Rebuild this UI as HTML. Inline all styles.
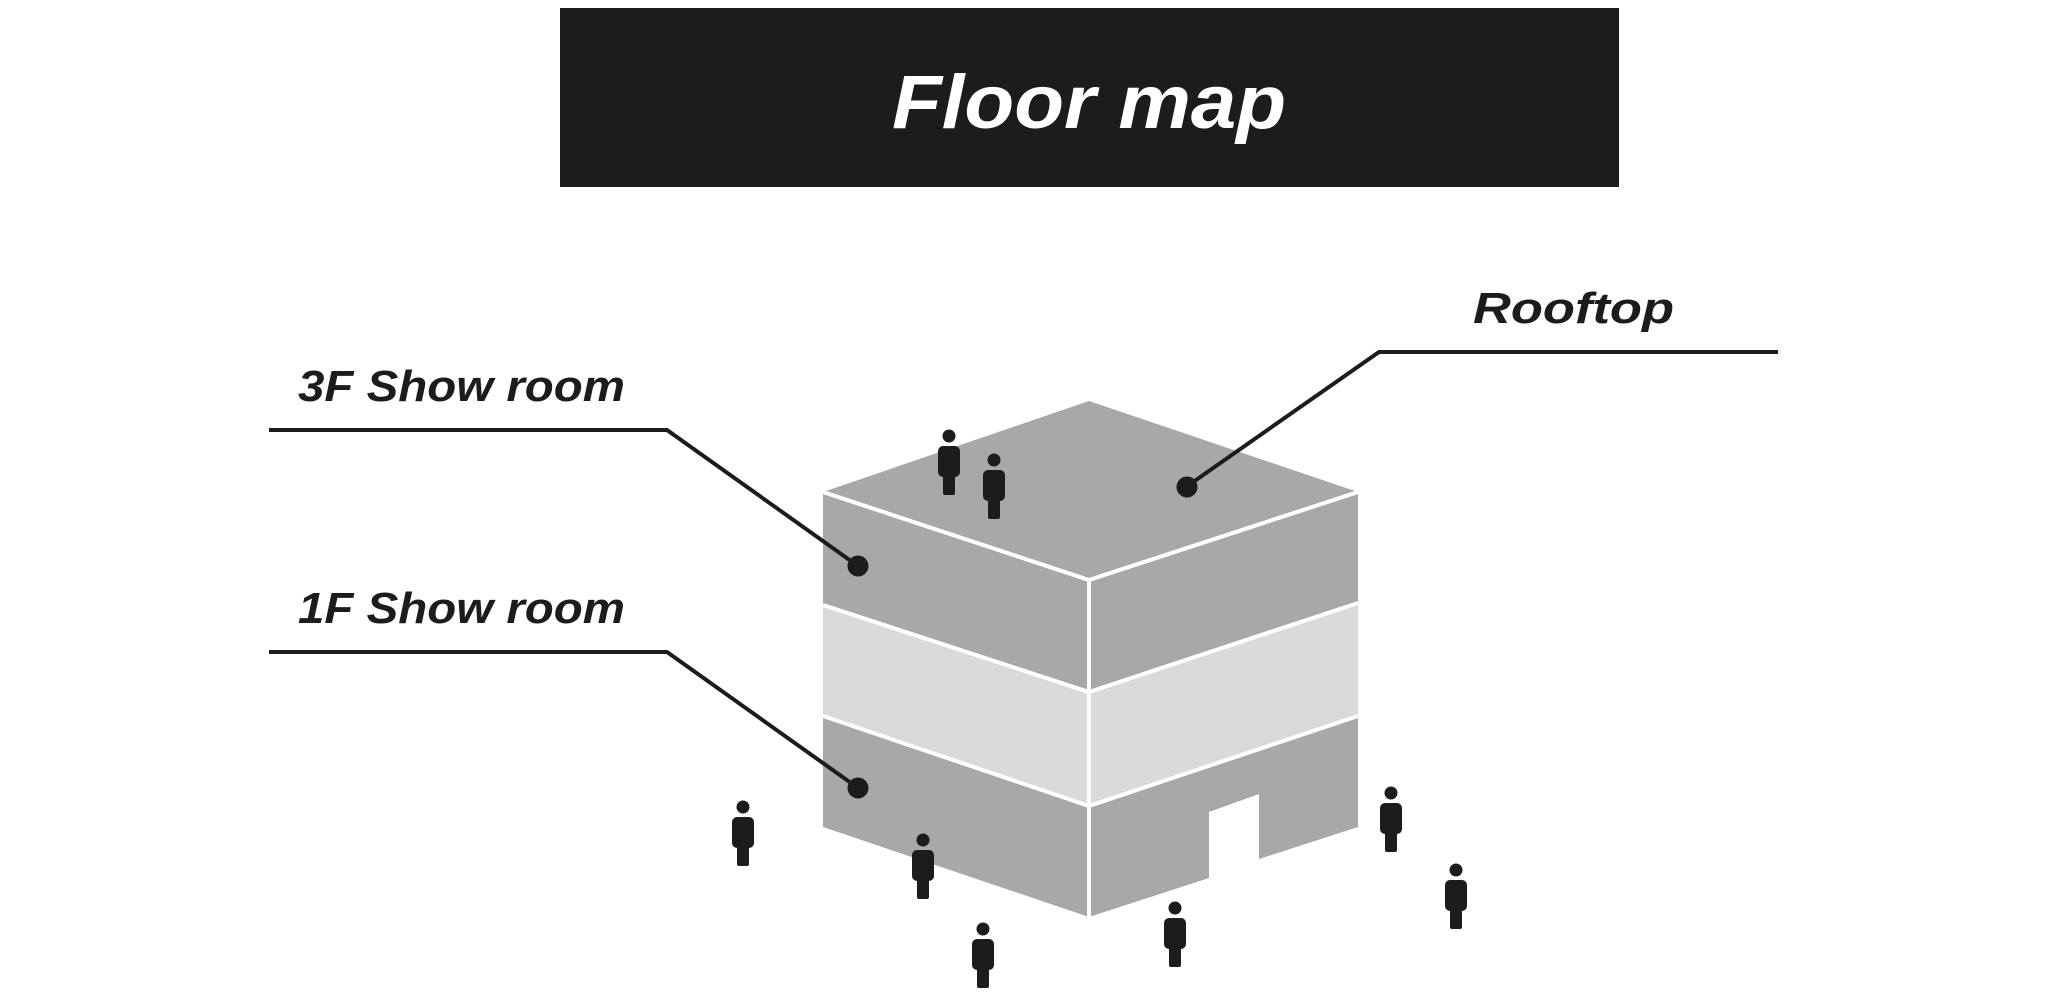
<!DOCTYPE html>
<html><head><meta charset="utf-8"><style>
html,body{margin:0;padding:0;background:#fff;}
svg{display:block;}
text{font-family:"Liberation Sans",sans-serif;font-weight:bold;font-style:italic;fill:#1c1c1c;}
</style></head><body>
<svg width="2048" height="996" viewBox="0 0 2048 996" xmlns="http://www.w3.org/2000/svg">
<defs>
<g id="p">
<circle cx="0" cy="0" r="6.5" fill="#1c1c1c"/>
<rect x="-11" y="10" width="22" height="31" rx="5" fill="#1c1c1c"/>
<rect x="-6" y="30" width="12" height="29" rx="2" fill="#1c1c1c"/>
</g>
</defs>
<rect x="560" y="8" width="1059" height="179" fill="#1c1c1c"/>
<text x="1089" y="128" font-size="76" text-anchor="middle" style="fill:#fff" textLength="394" lengthAdjust="spacingAndGlyphs">Floor map</text>

<polygon points="1089,401 1358,492 1358,827 1259,859 1259,794 1209,812 1209,878 1089,917 823,827 823,492" fill="#a8a8a8"/>
<polygon points="823,605 1089,692 1358,603 1358,716 1089,806 823,716" fill="#dadada"/>
<g stroke="#fff" stroke-width="4" fill="none">
<polyline points="823,492 1089,580 1358,492"/>
<polyline points="823,605 1089,692 1358,603"/>
<polyline points="823,716 1089,806 1358,716"/>
<line x1="1089" y1="580" x2="1089" y2="920"/>
</g>

<g stroke="#1c1c1c" stroke-width="4" fill="none">
<polyline points="269,430 667,430 858,566"/>
<polyline points="269,652 667,652 858,788"/>
<polyline points="1778,352 1379,352 1186,487"/>
</g>
<circle cx="858" cy="566" r="10.5" fill="#1c1c1c"/>
<circle cx="858" cy="788" r="10.5" fill="#1c1c1c"/>
<circle cx="1187" cy="487" r="10.5" fill="#1c1c1c"/>

<text x="298" y="401" font-size="44" textLength="327" lengthAdjust="spacingAndGlyphs">3F Show room</text>
<text x="298" y="623" font-size="44" textLength="327" lengthAdjust="spacingAndGlyphs">1F Show room</text>
<text x="1473" y="323" font-size="44" textLength="201" lengthAdjust="spacingAndGlyphs">Rooftop</text>

<use href="#p" x="949" y="436"/>
<use href="#p" x="994" y="460"/>
<use href="#p" x="743" y="807"/>
<use href="#p" x="923" y="840"/>
<use href="#p" x="983" y="929"/>
<use href="#p" x="1175" y="908"/>
<use href="#p" x="1391" y="793"/>
<use href="#p" x="1456" y="870"/>
</svg>
</body></html>
